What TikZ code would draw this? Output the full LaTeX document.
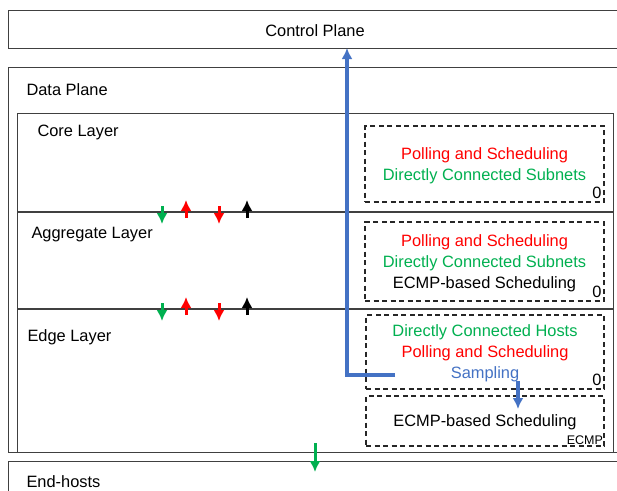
\documentclass[tikz,border=0pt]{standalone}
\usepackage{fontspec}
\setmainfont{Liberation Sans}
\usetikzlibrary{arrows.meta}
\definecolor{pollred}{RGB}{255,0,0}
\definecolor{subgreen}{RGB}{0,176,80}
\definecolor{sampblue}{RGB}{68,114,196}
\tikzset{
    plane/.style={draw=black!75, line width=1.4pt, inner sep=0pt, anchor=north west},
    funcbox/.style={draw=black!85, dash pattern=on 5pt off 3.5pt, line width=1.3pt, inner sep=0pt, align=center, text depth=0pt},
    bigtxt/.style={font=\fontsize{16.4}{21}\selectfont},
    zerotxt/.style={font=\fontsize{16.4}{20}\selectfont, anchor=south east, inner xsep=3pt, inner ysep=3.5pt},
    pkt/.style={line width=3pt}
}
\begin{document}
\begin{tikzpicture}[x=1pt, y=-1pt, >={Latex[length=11pt,width=11pt]}]
\clip (0,0) rectangle (617,490);
\fill[white] (0,0) rectangle (617,490);

% planes and layers
\node[plane, minimum width=617pt, minimum height=38pt, bigtxt] (ctrl) at (8,10) {};
\node[bigtxt] (ctrltxt) at (315,31) {Control Plane};
\node[plane, minimum width=622pt, minimum height=385pt] (data) at (8,67) {};
\node[bigtxt, anchor=west] (datatxt) at (23,90) {Data Plane};
\node[plane, minimum width=596pt, minimum height=339pt] (layers) at (17,113) {};
\draw[black!75, line width=1.4pt] (17,212) -- (613,212);
\draw[black!75, line width=1.4pt] (17,309) -- (613,309);
\node[bigtxt, anchor=west] (coretxt) at (34,132) {Core Layer};
\node[bigtxt, anchor=west] (aggrtxt) at (28,235) {Aggregate Layer};
\node[bigtxt, anchor=west] (edgetxt) at (24,337) {Edge Layer};
\node[plane, minimum width=622pt, minimum height=40pt] (hosts) at (8,461) {};
\node[bigtxt, anchor=west] (hoststxt) at (23,482) {End-hosts};

% function boxes
\node[funcbox, bigtxt, minimum width=239pt, minimum height=76pt] (core) at (484.5,164)
    {\textcolor{pollred}{Polling and Scheduling}\\\textcolor{subgreen}{Directly Connected Subnets}};
\node[zerotxt] (corezero) at (core.south east) {0};
\node[funcbox, bigtxt, minimum width=239pt, minimum height=79pt] (aggr) at (484.5,261.5)
    {\textcolor{pollred}{Polling and Scheduling}\\\textcolor{subgreen}{Directly Connected Subnets}\\ECMP-based Scheduling};
\node[zerotxt] (aggrzero) at (aggr.south east) {0};
\node[funcbox, bigtxt, minimum width=238pt, minimum height=74pt] (edgeA) at (485,352)
    {\textcolor{subgreen}{Directly Connected Hosts}\\\textcolor{pollred}{Polling and Scheduling}\\\textcolor{sampblue}{Sampling}};
\node[zerotxt] (edgezero) at (edgeA.south east) {0};
\node[funcbox, bigtxt, minimum width=238pt, minimum height=50pt] (edgeB) at (485,421) {ECMP-based Scheduling};
\node[font=\fontsize{12.5}{14}\selectfont, anchor=south east, inner sep=1.5pt] (ecmp) at (edgeB.south east) {ECMP};

% sampling path
\coordinate (samp) at (395,375);
\coordinate (up) at (347,48);
\coordinate (sampout) at (518,381);
\coordinate (ecmpin) at (518,409);
\draw[->, sampblue, line width=3.2pt] (samp) -| (up);
\draw[->, sampblue, line width=3.2pt] (sampout) -- (ecmpin);

% packet arrows on layer borders
\foreach \y in {212,309}
{
    \draw[->, subgreen, pkt] (162,\y-6) -- ++(0,18);
    \draw[->, pollred, pkt] (186,\y+6) -- ++(0,-18);
    \draw[->, pollred, pkt] (219,\y-6) -- ++(0,18);
    \draw[->, black, pkt] (247,\y+6) -- ++(0,-18);
}
\draw[->, subgreen, pkt] (315,443) -- (315,472);
\end{tikzpicture}
\end{document}
